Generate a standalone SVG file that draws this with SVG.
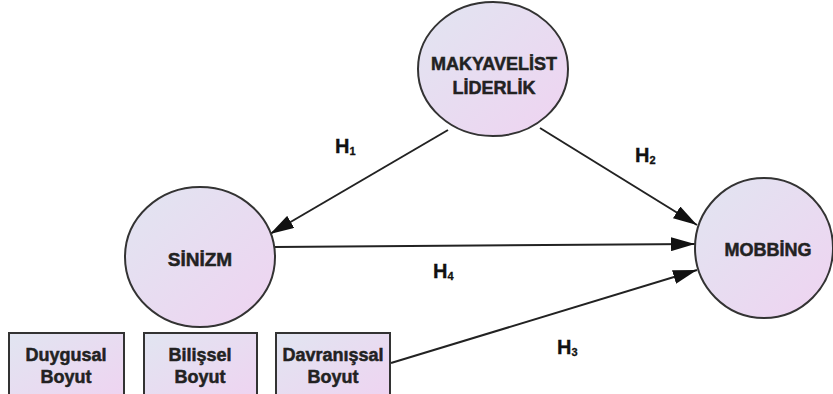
<svg xmlns="http://www.w3.org/2000/svg" width="833" height="394" viewBox="0 0 833 394">
  <defs>
    <linearGradient id="fill" x1="0" y1="0" x2="1" y2="1">
      <stop offset="0" stop-color="#e1e5f1"/>
      <stop offset="1" stop-color="#efd3f1"/>
    </linearGradient>
    <marker id="arrow" markerUnits="userSpaceOnUse" markerWidth="24" markerHeight="14" refX="24" refY="7" orient="auto" viewBox="0 0 24 14">
      <path d="M0,0 L24,7 L0,14 z" fill="#111"/>
    </marker>
  </defs>
  <style>
    .node { fill: url(#fill); stroke: #333; stroke-width: 2; }
    .box { fill: url(#fill); stroke: #333; stroke-width: 2; }
    .lbl { font-family: "Liberation Sans", Arial, sans-serif; font-weight: bold; font-size: 18px; fill: #222; stroke: #222; stroke-width: 0.5; text-anchor: middle; }
    .h { font-family: "Liberation Sans", Arial, sans-serif; font-weight: bold; font-size: 20px; fill: #111; stroke: #111; stroke-width: 0.3; }
    .sub { font-size: 11px; }
    .edge { stroke: #222; stroke-width: 2; fill: none; marker-end: url(#arrow); }
  </style>
  <rect width="833" height="394" fill="#ffffff"/>

  <g id="connectors">
    <line class="edge" x1="448" y1="130" x2="270" y2="234"/>
    <line class="edge" x1="540" y1="128" x2="697" y2="225"/>
    <line class="edge" x1="275" y1="247" x2="695" y2="244"/>
    <line class="edge" x1="391" y1="363" x2="697" y2="270"/>
  </g>

  <g id="makyavelist">
    <ellipse class="node" cx="493" cy="69" rx="75" ry="67"/>
    <text class="lbl" x="494" y="70">MAKYAVELİST</text>
    <text class="lbl" x="494" y="94">LİDERLİK</text>
  </g>

  <g id="sinizm">
    <ellipse class="node" cx="200" cy="257" rx="75" ry="70"/>
    <text class="lbl" x="200" y="266" style="font-size:19px">SİNİZM</text>
  </g>

  <g id="mobbing">
    <ellipse class="node" cx="764" cy="248" rx="69" ry="70"/>
    <text class="lbl" x="768" y="256">MOBBİNG</text>
  </g>

  <g id="duygusal">
    <rect class="box" x="9" y="333" width="115" height="70"/>
    <text class="lbl" x="66" y="361">Duygusal</text>
    <text class="lbl" x="66" y="383">Boyut</text>
  </g>

  <g id="bilissel">
    <rect class="box" x="144" y="333" width="113" height="70"/>
    <text class="lbl" x="200" y="361">Bilişsel</text>
    <text class="lbl" x="200" y="383">Boyut</text>
  </g>

  <g id="davranissal">
    <rect class="box" x="276" y="333" width="114" height="70"/>
    <text class="lbl" x="333" y="361">Davranışsal</text>
    <text class="lbl" x="333" y="383">Boyut</text>
  </g>

  <g id="labels">
    <text class="h" x="335" y="153">H<tspan class="sub" dy="2">1</tspan></text>
    <text class="h" x="635" y="162">H<tspan class="sub" dy="2">2</tspan></text>
    <text class="h" x="433" y="278">H<tspan class="sub" dy="2">4</tspan></text>
    <text class="h" x="557" y="354">H<tspan class="sub" dy="2">3</tspan></text>
  </g>
</svg>
